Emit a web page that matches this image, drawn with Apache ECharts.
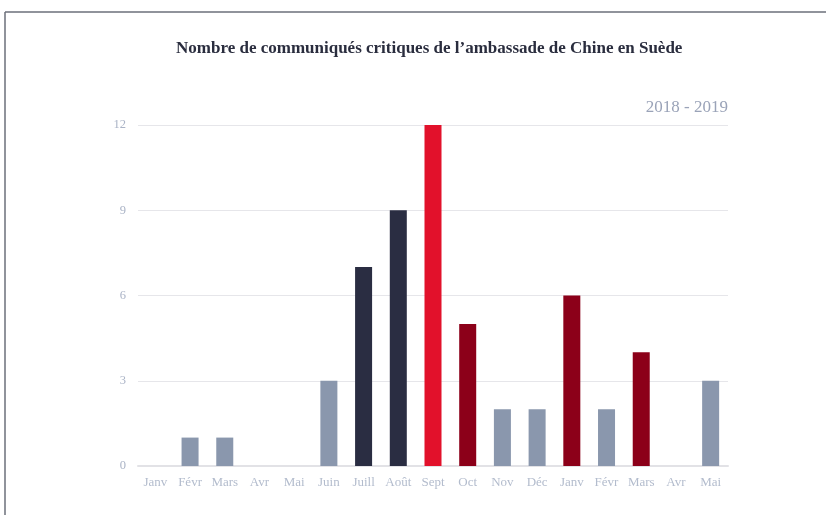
<!DOCTYPE html>
<html><head><meta charset="utf-8">
<script src="https://cdn.jsdelivr.net/npm/echarts@6/dist/echarts.min.js"></script>
<style>html,body{margin:0;padding:0;background:#fff}#c{width:826px;height:515px}</style>
</head><body><div id="c"></div>
<script>
const categories = ['Janv','Févr','Mars','Avr','Mai','Juin','Juill','Août','Sept','Oct','Nov','Déc','Janv','Févr','Mars','Avr','Mai'];
const values = [0,1,1,0,0,3,7,9,12,5,2,2,6,2,4,0,3];
const colorGroups = ['g','g','g','g','g','g','n','n','r','d','g','g','d','g','d','g','g'];
const yTicks = [0,3,6,9,12];
const palette = {g:'#8a97ad', n:'#2a2d42', r:'#e2112b', d:'#8c0019'};
const serif = '"Liberation Serif","DejaVu Serif",serif';
const chart = echarts.init(document.getElementById('c'));
chart.setOption({
  animation:false,
  title:{text:'Nombre de communiqués critiques de l\u2019ambassade de Chine en Suède',left:171,top:35,
    textStyle:{fontFamily:serif,fontSize:17,fontWeight:'bold',color:'#2a2d3e'}},
  graphic:[
    {type:'line',shape:{x1:5,y1:12,x2:826,y2:12},style:{stroke:'#6b6f7a',lineWidth:1.5}},
    {type:'line',shape:{x1:5,y1:12,x2:5,y2:515},style:{stroke:'#6b6f7a',lineWidth:1.5}},
    {type:'text',right:98,top:99,style:{text:'2018 - 2019',font:'17px '+serif,fill:'#9aa3b8'}}
  ],
  grid:{left:138,right:98,top:125,bottom:49,containLabel:false},
  xAxis:{type:'category',data:categories,
    axisLine:{lineStyle:{color:'#e2e2e6',width:2}},axisTick:{show:false},
    axisLabel:{fontFamily:serif,fontSize:13,color:'#b3bccd',margin:10,interval:0}},
  yAxis:{type:'value',min:0,max:12,interval:3,
    axisLine:{show:false},axisTick:{show:false},
    splitLine:{lineStyle:{color:'#e6e6ea',width:1.2}},
    axisLabel:{fontFamily:serif,fontSize:12.5,color:'#aab3c6',margin:12,
      formatter:v=>yTicks.includes(v)?String(v):''}},
  series:[{type:'bar',barWidth:'49%',
    data:values.map((v,i)=>({value:v,itemStyle:{color:palette[colorGroups[i]]}}))}]
});
</script></body></html>
